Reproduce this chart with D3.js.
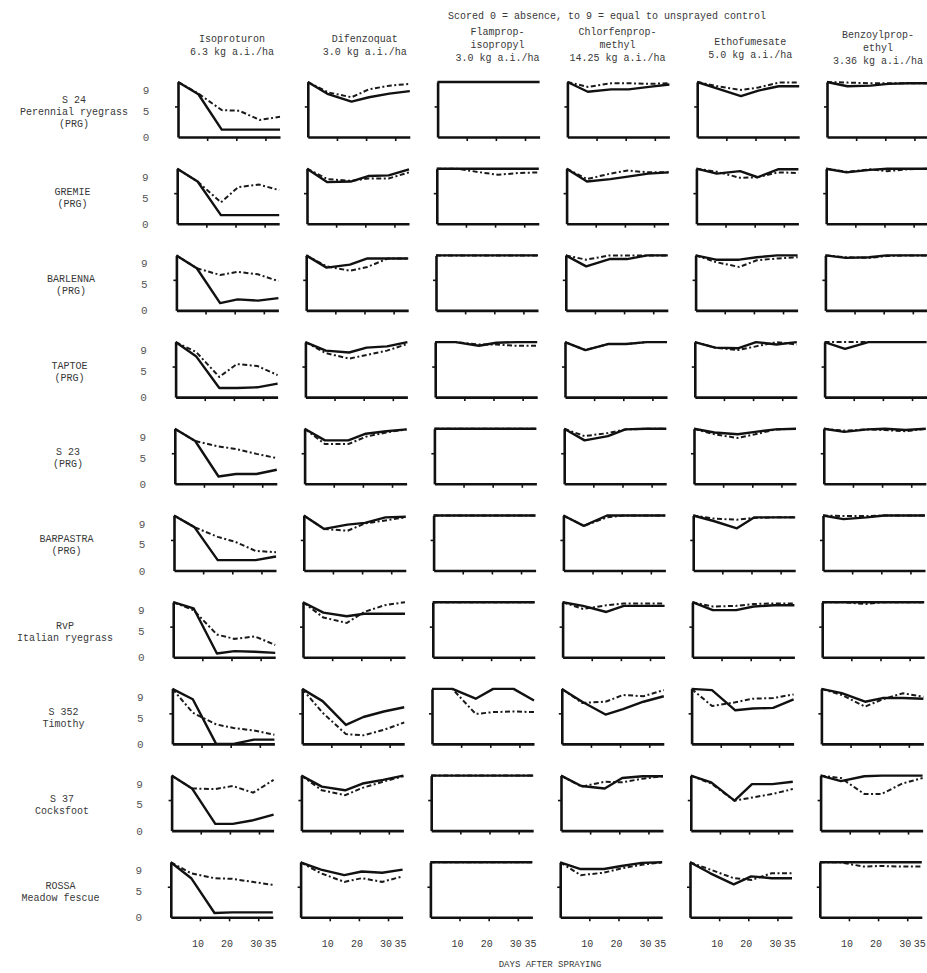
<!DOCTYPE html>
<html>
<head>
<meta charset="utf-8">
<script src="https://cdn.jsdelivr.net/npm/d3@7"></script>
<style>
  body { margin: 0; background: #fff; }
  svg { display: block; background: #fff; }
  text { font-family: "Liberation Mono", "DejaVu Sans Mono", monospace; fill: #383838; }
</style>
</head>
<body>
<svg></svg>
<script>
// assessment days and axis labels
let days = [0, 7, 15, 21, 28, 35];
let dayTicks = [10, 20, 30, 35];
let scoreTicks = [0, 5, 9];

let herbicides = [
  ["Isoproturon", "6.3 kg a.i./ha"],
  ["Difenzoquat", "3.0 kg a.i./ha"],
  ["Flamprop-", "isopropyl", "3.0 kg a.i./ha"],
  ["Chlorfenprop-", "methyl", "14.25 kg a.i./ha"],
  ["Ethofumesate", "5.0 kg a.i./ha"],
  ["Benzoylprop-", "ethyl", "3.36 kg a.i./ha"]
];

let cultivars = [
  ["S 24", "Perennial ryegrass", "(PRG)"],
  ["GREMIE", "(PRG)"],
  ["BARLENNA", "(PRG)"],
  ["TAPTOE", "(PRG)"],
  ["S 23", "(PRG)"],
  ["BARPASTRA", "(PRG)"],
  ["RvP", "Italian ryegrass"],
  ["S 352", "Timothy"],
  ["S 37", "Cocksfoot"],
  ["ROSSA", "Meadow fescue"]
];

// scores per cultivar (rows) at each assessment day
let isoproturonSolid = [
  [9, 7.0, 1.2, 1.2, 1.2, 1.2],
  [9, 6.9, 1.4, 1.4, 1.4, 1.4],
  [9, 6.9, 1.2, 1.8, 1.6, 2.0],
  [9, 6.7, 1.5, 1.5, 1.6, 2.2],
  [9, 7.0, 1.2, 1.6, 1.6, 2.3],
  [9, 7.1, 1.7, 1.7, 1.7, 2.3],
  [9, 8.0, 0.6, 1.0, 0.9, 0.7],
  [9, 7.3, 0, 0, 0.7, 0.7],
  [9, 6.9, 1.1, 1.1, 1.7, 2.6],
  [9, 6.4, 0.7, 0.8, 0.8, 0.8]
];
let isoproturonDashed = [
  [9, 7.1, 4.4, 4.3, 2.8, 3.3],
  [9, 6.9, 3.5, 6.0, 6.4, 5.5],
  [9, 6.9, 5.8, 6.3, 5.9, 4.8],
  [9, 7.4, 3.3, 5.4, 5.1, 3.6],
  [9, 7.0, 6.1, 5.7, 4.9, 4.2],
  [9, 7.1, 5.5, 4.7, 3.2, 3.0],
  [9, 7.7, 3.7, 3.0, 3.4, 2.0],
  [9, 5.1, 3.2, 2.6, 2.2, 1.5],
  [9, 6.9, 6.8, 7.3, 6.2, 8.3],
  [9, 7.2, 6.4, 6.3, 5.8, 5.3]
];

let difenzoquatSolid = [
  [9, 7.0, 5.8, 6.5, 7.1, 7.5],
  [9, 6.8, 6.9, 7.8, 7.9, 8.9],
  [9, 7.0, 7.5, 8.5, 8.5, 8.5],
  [9, 7.6, 7.3, 8.1, 8.3, 9],
  [9, 7.1, 7.1, 8.2, 8.6, 8.9],
  [9, 6.8, 7.5, 7.8, 8.7, 8.8],
  [9, 7.3, 6.7, 7.1, 7.1, 7.1],
  [9, 7.0, 3.1, 4.4, 5.3, 6.0],
  [9, 7.2, 6.6, 7.7, 8.3, 9],
  [9, 7.8, 6.9, 7.5, 7.3, 7.8]
];
let difenzoquatDashed = [
  [9, 7.3, 6.5, 7.8, 8.4, 8.7],
  [9, 7.3, 7.0, 7.4, 7.4, 8.4],
  [9, 7.2, 6.5, 7.1, 8.5, 8.5],
  [9, 7.2, 6.3, 6.9, 7.6, 8.7],
  [9, 6.5, 6.5, 7.7, 8.4, 8.9],
  [9, 6.8, 6.5, 7.7, 8.2, 8.7],
  [9, 6.5, 5.6, 7.4, 8.5, 9],
  [9, 5.1, 1.6, 1.4, 2.3, 3.5],
  [9, 6.6, 5.8, 7.0, 8.0, 8.9],
  [9, 7.2, 5.8, 6.4, 5.8, 6.7]
];

let flampropSolid = [
  [9, 9, 9, 9, 9, 9],
  [9, 9, 9, 9, 9, 9],
  [9, 9, 9, 9, 9, 9],
  [9, 9, 8.4, 8.9, 9, 9],
  [9, 9, 9, 9, 9, 9],
  [9, 9, 9, 9, 9, 9],
  [9, 9, 9, 9, 9, 9],
  [9, 9, 7.4, 9, 9, 7.1],
  [9, 9, 9, 9, 9, 9],
  [9, 9, 9, 9, 9, 9]
];
let flampropDashed = [
  [9, 9, 9, 9, 9, 9],
  [9, 9, 8.4, 8.0, 8.3, 8.4],
  [9, 9, 9, 9, 9, 9],
  [9, 9, 8.6, 8.6, 8.4, 8.4],
  [9, 9, 9, 9, 9, 9],
  [9, 9, 9, 9, 9, 9],
  [9, 9, 9, 9, 9, 9],
  [9, 9, 4.9, 5.2, 5.3, 5.2],
  [9, 9, 9, 9, 9, 9],
  [9, 9, 9, 9, 9, 9]
];

let chlorfenpropSolid = [
  [9, 7.4, 7.8, 7.8, 8.2, 8.6],
  [9, 6.9, 7.3, 7.7, 8.2, 8.4],
  [9, 7.2, 8.4, 8.4, 9, 9],
  [9, 7.7, 8.7, 8.7, 9, 9],
  [9, 7.1, 7.8, 8.9, 9, 9],
  [9, 7.3, 9, 9, 9, 9],
  [9, 8.4, 7.4, 8.4, 8.4, 8.4],
  [9, 6.9, 4.8, 5.7, 6.9, 7.8],
  [9, 7.3, 6.9, 8.6, 8.9, 8.9],
  [9, 7.9, 7.9, 8.4, 8.9, 9]
];
let chlorfenpropDashed = [
  [9, 8.2, 8.8, 8.8, 8.7, 8.8],
  [9, 7.3, 8.2, 8.7, 8.4, 8.4],
  [9, 8.3, 9, 9, 9, 9],
  [9, 7.7, 8.7, 8.7, 9, 9],
  [9, 7.8, 8.3, 8.9, 9, 9],
  [9, 7.3, 8.7, 9, 9, 9],
  [9, 7.9, 8.5, 8.8, 8.8, 8.8],
  [9, 6.7, 6.9, 8.0, 7.8, 8.8],
  [9, 7.2, 8.0, 7.9, 8.5, 8.9],
  [9, 6.9, 7.3, 8.0, 8.6, 9]
];

let ethofumesateSolid = [
  [9, 7.9, 6.7, 7.6, 8.3, 8.3],
  [9, 8.2, 8.6, 7.6, 8.9, 8.9],
  [9, 8.3, 8.3, 8.7, 9, 9],
  [9, 8.1, 8.0, 9, 8.6, 9],
  [9, 8.4, 8.1, 8.5, 8.9, 9],
  [9, 8.1, 6.9, 8.7, 8.7, 8.7],
  [9, 7.7, 7.7, 8.3, 8.5, 8.5],
  [9, 8.8, 5.5, 5.8, 5.9, 7.3],
  [9, 7.9, 4.9, 7.6, 7.6, 8.0],
  [9, 7.2, 5.4, 6.7, 6.4, 6.4]
];
let ethofumesateDashed = [
  [9, 8.3, 7.7, 8.1, 8.9, 8.9],
  [9, 8.5, 7.5, 7.6, 8.4, 8.3],
  [9, 7.9, 7.1, 8.2, 8.5, 8.7],
  [9, 8.1, 7.7, 8.3, 9, 8.6],
  [9, 8.1, 7.5, 8.1, 8.9, 9],
  [9, 8.5, 8.3, 8.6, 8.7, 8.7],
  [9, 8.3, 8.4, 8.7, 8.8, 8.8],
  [9, 6.2, 6.8, 7.4, 7.5, 8.1],
  [9, 7.7, 4.9, 5.4, 6.0, 6.8],
  [9, 7.8, 6.4, 6.1, 7.2, 7.2]
];

let benzoylpropSolid = [
  [9, 8.3, 8.4, 8.7, 8.8, 8.8],
  [9, 8.4, 8.8, 9, 9, 9],
  [9, 8.6, 8.7, 9, 9, 9],
  [9, 7.9, 9, 9, 9, 9],
  [9, 8.5, 8.9, 9, 8.8, 9],
  [9, 8.4, 8.7, 9, 9, 9],
  [9, 9, 9, 9, 9, 9],
  [9, 8.3, 6.9, 7.5, 7.5, 7.4],
  [9, 8.1, 8.9, 9, 9, 9],
  [9, 9, 9, 9, 9, 9]
];
let benzoylpropDashed = [
  [9, 8.9, 8.8, 8.8, 8.8, 8.8],
  [9, 8.5, 8.9, 8.6, 8.9, 9],
  [9, 8.7, 8.6, 8.9, 9, 9],
  [9, 9, 9, 9, 9, 9],
  [9, 8.7, 8.9, 8.8, 8.6, 9],
  [9, 8.9, 8.9, 9, 9, 9],
  [9, 9, 8.7, 9, 9, 9],
  [9, 8.0, 6.1, 7.3, 8.3, 7.7],
  [9, 8.6, 6.0, 6.0, 7.7, 8.6],
  [9, 9, 8.3, 8.4, 8.3, 8.3]
];

let solidSeries = [isoproturonSolid, difenzoquatSolid, flampropSolid,
  chlorfenpropSolid, ethofumesateSolid, benzoylpropSolid];
let dashedSeries = [isoproturonDashed, difenzoquatDashed, flampropDashed,
  chlorfenpropDashed, ethofumesateDashed, benzoylpropDashed];

let width = 927;
let height = 973;

// panel grid
let firstAxisX = 178;
let colStep = 129.8;
let panelWidth = 102;
let firstBottom = 137;
let rowStep = 86.7;
let panelHeight = 55;
let skew = -0.8; // scanned page is slightly tilted

// typed headings sit a bit off the panel centres
let titleDx = [3, 6, 9, -1, 2, 0];
let titleDy = [0, 0, 0, 0, 3, 3];

let svg = d3.select("svg");

function drawCanvas() {
  svg.attr("width", width).attr("height", height);
}

function panelScales(r, c) {
  let x0 = firstAxisX + c * colStep + skew * r;
  let bottom = firstBottom + r * rowStep;
  let xScale = d3.scaleLinear().domain([0, 35]).range([x0, x0 + panelWidth]);
  let yScale = d3.scaleLinear().domain([0, 9]).range([bottom, bottom - panelHeight]);
  return { x0, bottom, xScale, yScale };
}

function drawHeader() {
  svg
    .append("text")
    .attr("x", 607)
    .attr("y", 19)
    .attr("text-anchor", "middle")
    .style("font-size", "10px")
    .text("Scored 0 = absence, to 9 = equal to unsprayed control");

  herbicides.forEach((lines, c) => {
    let s = panelScales(0, c);
    let cx = (s.xScale(0) + s.xScale(35)) / 2 + titleDx[c];
    let y0 = (lines.length === 3 ? 35 : 42) + titleDy[c];
    lines.forEach((t, i) => {
      svg
        .append("text")
        .attr("x", cx)
        .attr("y", y0 + i * 13)
        .attr("text-anchor", "middle")
        .style("font-size", "10px")
        .text(t);
    });
  });
}

function drawRowLabels() {
  cultivars.forEach((lines, r) => {
    let s = panelScales(r, 0);
    let mid = s.bottom - panelHeight + 29;
    let first = mid - ((lines.length - 1) * 12) / 2;
    lines.forEach((t, i) => {
      svg
        .append("text")
        .attr("x", 74 - 1.5 * r)
        .attr("y", first + i * 12 + 3.5)
        .attr("text-anchor", "middle")
        .style("font-size", "10px")
        .text(t);
    });

    // typed score labels sit a little apart from the axis scale
    let labelScale = d3.scaleLinear().domain([0, 9]).range([s.bottom, s.bottom - 47]);
    scoreTicks.forEach((v) => {
      svg
        .append("text")
        .attr("x", 146 + skew * r)
        .attr("y", labelScale(v) + 4)
        .attr("text-anchor", "middle")
        .style("font-size", "11px")
        .style("fill", "#555")
        .text(v);
    });
  });
}

function drawPanels() {
  for (let r = 0; r < cultivars.length; r++) {
    for (let c = 0; c < herbicides.length; c++) {
      let s = panelScales(r, c);
      let g = svg.append("g").attr("class", "panel");

      let xAxis = d3.axisBottom(s.xScale)
        .tickValues([10, 20, 30])
        .tickSize(4)
        .tickSizeOuter(0)
        .tickFormat("");
      g.append("g")
        .attr("transform", `translate(0, ${s.bottom})`)
        .call(xAxis);

      let yAxis = d3.axisLeft(s.yScale)
        .tickValues([5])
        .tickSize(3)
        .tickSizeOuter(0)
        .tickFormat("");
      g.append("g")
        .attr("transform", `translate(${s.x0}, 0)`)
        .call(yAxis);

      g.selectAll(".domain").attr("stroke", "#111").attr("stroke-width", 2.6);
      g.selectAll(".tick line").attr("stroke", "#111").attr("stroke-width", 1.6);

      let line = d3.line()
        .x((d, i) => s.xScale(days[i]))
        .y((d) => s.yScale(d));

      g.append("path")
        .datum(dashedSeries[c][r])
        .attr("d", line)
        .attr("fill", "none")
        .attr("stroke", "#1a1a1a")
        .attr("stroke-width", 2)
        .attr("stroke-dasharray", "5,2.5,2,2.5");

      g.append("path")
        .datum(solidSeries[c][r])
        .attr("d", line)
        .attr("fill", "none")
        .attr("stroke", "#111")
        .attr("stroke-width", 2.4)
        .attr("stroke-linejoin", "round");
    }
  }
}

function drawDayLabels() {
  let last = cultivars.length - 1;
  herbicides.forEach((h, c) => {
    let s = panelScales(last, c);
    dayTicks.forEach((d) => {
      svg
        .append("text")
        .attr("x", s.xScale(d) - 2)
        .attr("y", s.bottom + 30)
        .attr("text-anchor", "middle")
        .style("font-size", "10px")
        .text(d);
    });
  });

  svg
    .append("text")
    .attr("x", 550)
    .attr("y", height - 6)
    .attr("text-anchor", "middle")
    .style("font-size", "9px")
    .text("DAYS  AFTER  SPRAYING");
}

drawCanvas();
drawHeader();
drawPanels();
drawRowLabels();
drawDayLabels();
</script>
</body>
</html>
